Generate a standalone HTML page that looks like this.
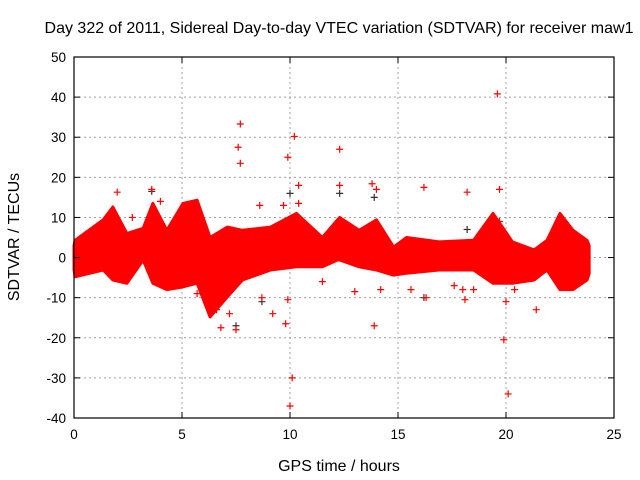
<!DOCTYPE html>
<html><head><meta charset="utf-8"><style>
html,body{margin:0;padding:0;background:#fff;width:640px;height:480px;overflow:hidden}
svg{display:block;font-family:"Liberation Sans",sans-serif}
</style></head><body>
<svg id="chart" width="640" height="480" viewBox="0 0 640 480">
<rect x="0" y="0" width="640" height="480" fill="#fff"/>
<text x="339" y="33" font-size="16" text-anchor="middle" fill="#000">Day 322 of 2011, Sidereal Day-to-day VTEC variation (SDTVAR) for receiver maw1</text>
<g id="grid"></g>
<g id="marks"></g>
<g id="axes"></g>
<text x="339" y="471" font-size="16" text-anchor="middle">GPS time / hours</text>
<text x="19" y="237" font-size="16" text-anchor="middle" transform="rotate(-90 19 237)">SDTVAR / TECUs</text>
</svg>
<script>
const xTicks=[0,5,10,15,20,25];
const yTicks=[-40,-30,-20,-10,0,10,20,30,40,50];
const bandTimes=[0,0.05,1.35,1.8,2.45,3.2,3.65,4.3,5.05,5.7,6.3,7.1,7.8,9.1,10.3,11.5,12.2,12.3,13.2,14,14.8,15.4,16.9,18.5,19.4,20.3,21.3,21.9,22.5,23.1,23.75,23.85];
const bandUpper=[3,4.3,9.4,12.6,6,7.3,13.5,6.8,13.5,14.3,5,7.6,6.8,7.6,11,5,9.4,10,6.8,9.4,2.6,5,3.9,4.3,11,3.9,1.9,4.3,11,6.8,4.3,3];
const bandLower=[-3,-4.8,-3.1,-5.6,-6.4,-0.6,-6.4,-8,-7.3,-6.4,-14.8,-9.8,-5.6,-3.1,-2.3,-2.3,-0.6,-0.6,-2.3,-3.1,-4.4,-3.9,-3.1,-3.1,-6.4,-6.4,-5.6,-3.1,-8,-8,-5.6,-4];
const outTimes=[7.7,10.2,12.3,19.6,9.9,7.6,7.7,10.0,10.1,9.8,7.5,6.8,13.9,19.9,20.1,21.4,16.2,18.2,19.7,2.0,3.6,10.4,13.8,14.0,9.7,10.4,4.0,5.7,16.3,18.1,18.5,20.4,15.6,13,11.5,14.2,2.7,8.7,9.2,20,17.6,7.2,6.6,9.9,18,19.7,12.3,8.6];
const outValues=[33.3,30.2,27,40.8,25,27.5,23.5,-37,-30,-16.5,-18,-17.5,-17,-20.5,-34,-13,17.5,16.3,17,16.3,17,18,18.4,17,13,13.5,14,-9,-10,-10.5,-8,-8,-8,-8.5,-6,-8,10,-10,-14,-11,-7,-14,-13,-10.5,-8,9,18,13];
const darkTimes=[3.6,10.0,13.9,12.3,16.2,7.5,8.7,18.2];
const darkValues=[16.5,16,15,16,-10,-17,-11,7];

const X0=74,X1=614,Y0=418,Y1=57;
const xs=t=>X0+(t-0)/(25-0)*(X1-X0);
const ys=v=>Y0-(v+40)/90*(Y0-Y1);
const NS='http://www.w3.org/2000/svg';
function mk(tag,parent,attrs){const e=document.createElementNS(NS,tag);for(const k in attrs)e.setAttribute(k,attrs[k]);parent.appendChild(e);return e;}
const grid=document.getElementById('grid'),axes=document.getElementById('axes'),marks=document.getElementById('marks');
xTicks.forEach(t=>{
  if(t>0&&t<25){const l=mk('line',grid,{x1:xs(t),x2:xs(t),y1:Y1,y2:Y0,stroke:'#a0a0a0','stroke-dasharray':'2,3'});
  
  }
  mk('line',axes,{x1:xs(t),x2:xs(t),y1:Y0,y2:Y0-6,stroke:'#000'});
  mk('line',axes,{x1:xs(t),x2:xs(t),y1:Y1,y2:Y1+6,stroke:'#000'});
  const tx=mk('text',axes,{x:xs(t),y:Y0+21,'font-size':'13.5','text-anchor':'middle'});tx.textContent=t;
  
  
});
yTicks.forEach(v=>{
  if(v>-40&&v<50){const l=mk('line',grid,{x1:X0,x2:X1,y1:ys(v),y2:ys(v),stroke:'#a0a0a0','stroke-dasharray':'2,3'});
  
  }
  mk('line',axes,{x1:X0,x2:X0+6,y1:ys(v),y2:ys(v),stroke:'#000'});
  mk('line',axes,{x1:X1,x2:X1-6,y1:ys(v),y2:ys(v),stroke:'#000'});
  const tx=mk('text',axes,{x:X0-8,y:ys(v)+5,'font-size':'13.5','text-anchor':'end'});tx.textContent=v;
  
  
});
const fr=mk('rect',axes,{x:X0,y:Y1,width:X1-X0,height:Y0-Y1,fill:'none',stroke:'#000','stroke-width':'1.2'});


let d='M'+bandTimes.map((t,i)=>xs(t)+','+ys(bandUpper[i])).join('L');
for(let i=bandTimes.length-1;i>=0;i--)d+='L'+xs(bandTimes[i])+','+ys(bandLower[i]);
d+='Z';
const band=mk('path',marks,{d:d,fill:'#ff0000',stroke:'#ff0000','stroke-width':'3','stroke-linejoin':'round'});


function plus(t,v,c,name){
  const x=xs(t),y=ys(v);
  const p=mk('path',marks,{d:`M${x-3.5},${y}H${x+3.5}M${x},${y-3.5}V${y+3.5}`,stroke:c,'stroke-width':'1.2',fill:'none'});
  
  
}
darkTimes.forEach((t,i)=>plus(t,darkValues[i],'#333','reference-point'));
outTimes.forEach((t,i)=>plus(t,outValues[i],'#ff0000','outlier-point'));
</script>
</body></html>
